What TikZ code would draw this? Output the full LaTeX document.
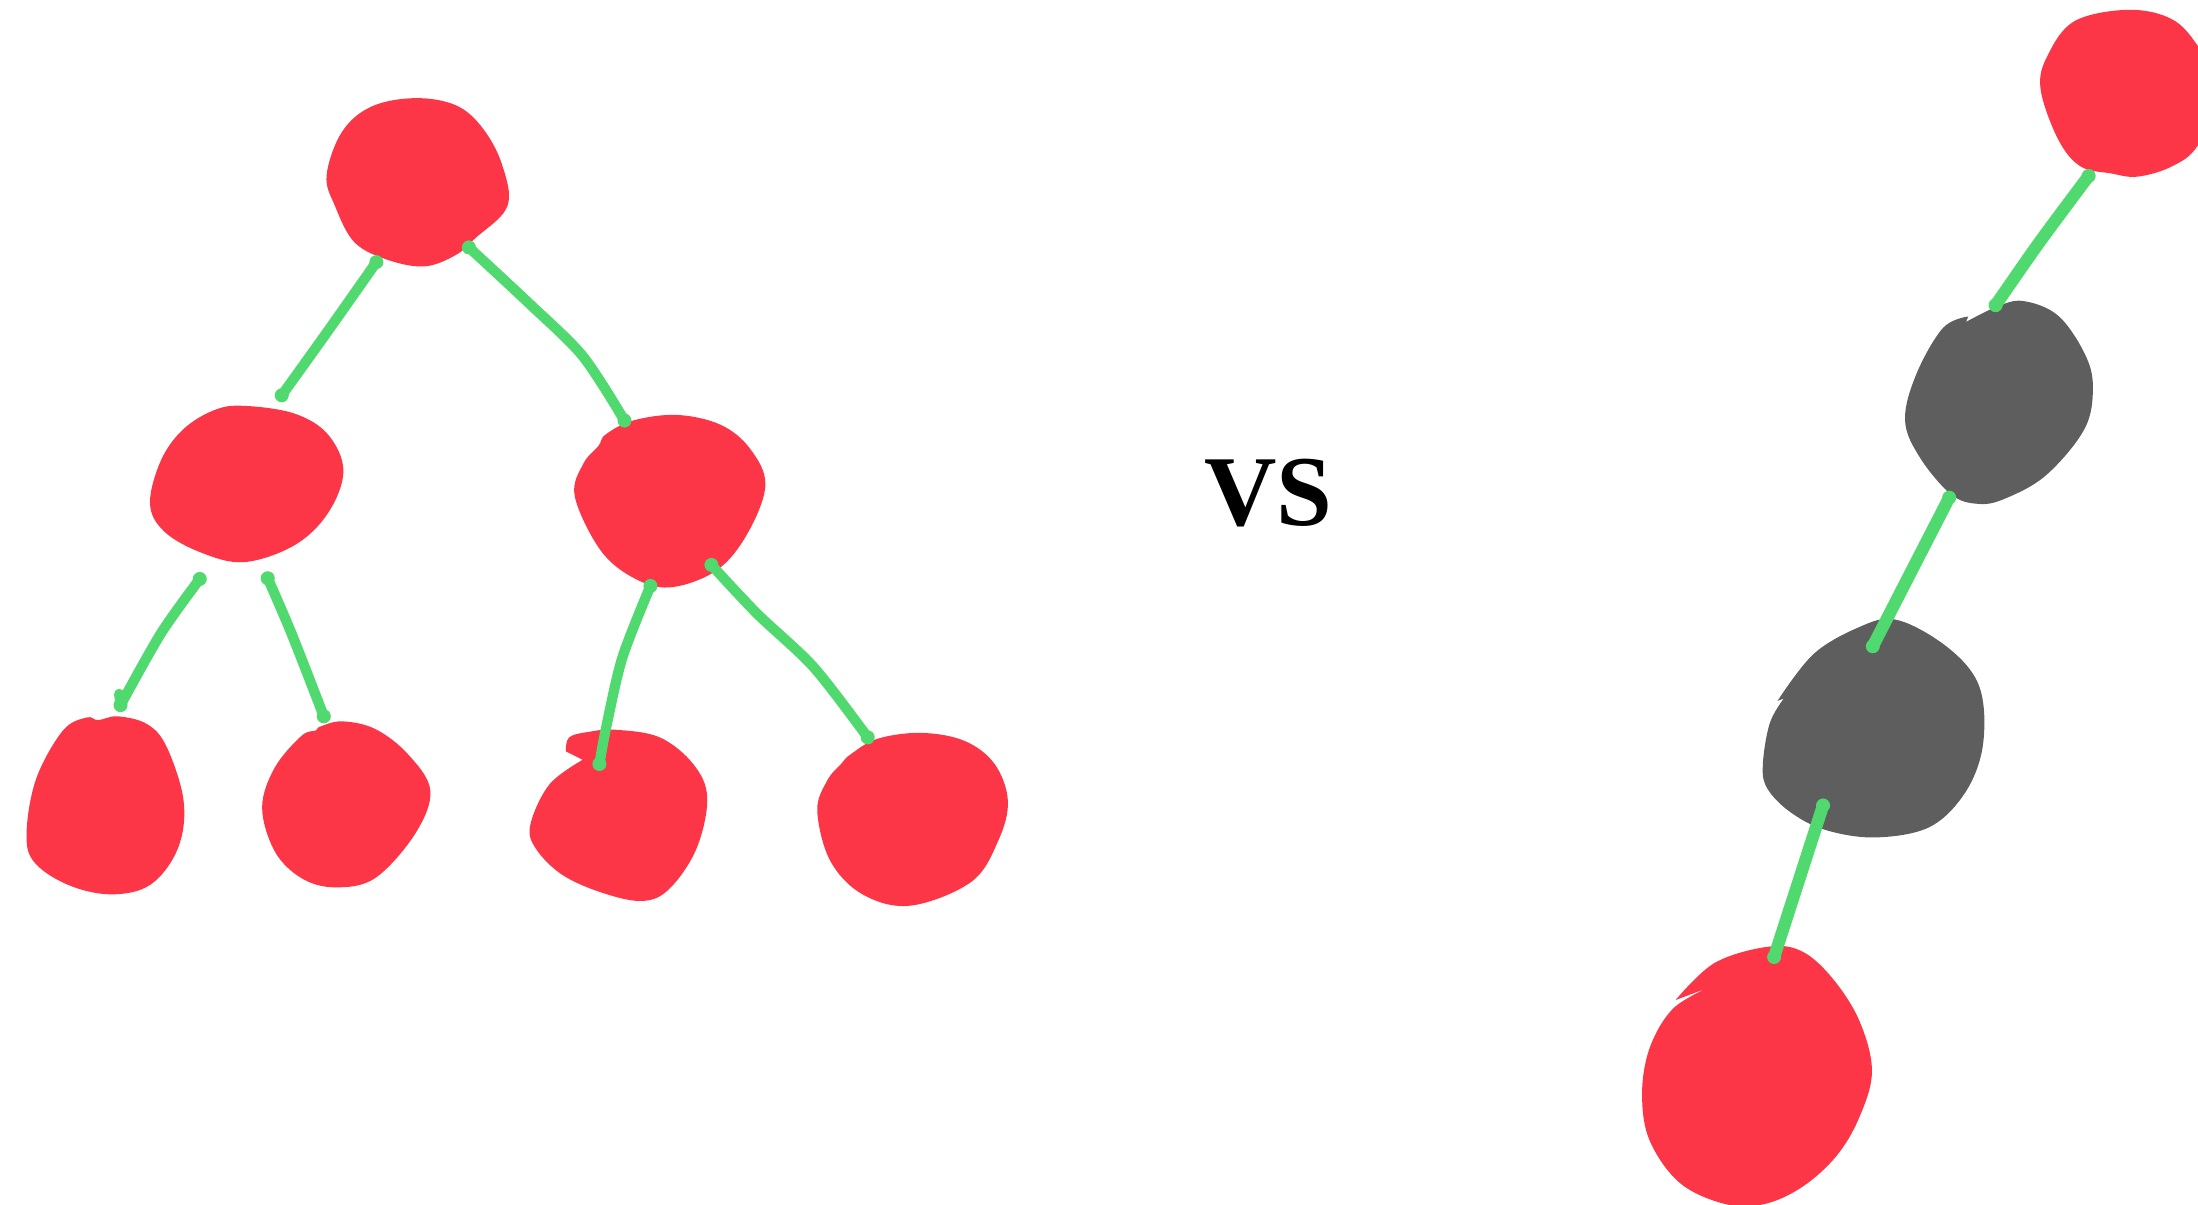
\documentclass[tikz,border=0pt]{standalone}
\usepackage{fontspec}
\setmainfont{Liberation Serif}
\definecolor{cherryred}{RGB}{252,53,71}
\definecolor{cherrygrey}{RGB}{94,94,94}
\definecolor{stemgreen}{RGB}{79,217,110}
\tikzset{
	redblob/.style={fill=cherryred},
	greyblob/.style={fill=cherrygrey},
	stem/.style={draw=stemgreen, line width=2.9pt, line cap=round, line join=round},
	thickstem/.style={stem, line width=3.5pt},
	stemend/.style={fill=stemgreen},
}
\begin{document}
\begin{tikzpicture}[x=0.014cm, y=-0.014cm]
	\useasboundingbox (0,0) rectangle (1568,859.6);
	\clip (0,0) rectangle (1568,859.6);

	% Left tree, cherries
	\fill[redblob] plot[smooth cycle, tension=0.6] coordinates {(296,70) (325,75) (344,91) (358,117) (362,147) (339,170) (325,182) (303,190) (277,185.5) (253,173) (239,147) (233,125) (244,94) (265,76)};
	\fill[redblob] plot[smooth cycle, tension=0.6] coordinates {(174,289.5) (210,295) (234,310) (245,336) (234,366) (210,389) (174,401) (143,394) (117,379) (107,359) (115,328) (131,306) (153,292.5)};
	\fill[redblob] plot[smooth cycle, tension=0.6] coordinates {(483,296) (514,303) (535,320) (546,346) (533,381) (511,407) (478,419) (451.5,412) (428,392) (410,354) (416,331) (427,318) (432,310) (451.5,300)};
	\fill[redblob] plot[smooth cycle, tension=0.6] coordinates {(62,511.8) (70,513.7) (84,511) (105,516.6) (119,533) (131,571.5) (127,605) (107.5,631) (79,638) (48,631) (24,614.5) (19,593) (26,555) (45,521)};
	\fill[redblob] plot[smooth cycle, tension=0.6] coordinates {(244,514.6) (267.6,520) (291,538) (307,564) (296,595) (267.6,626.4) (239,633) (215,626.4) (196,607.3) (187,576) (196,547.6) (215,525) (225.5,521) (228,518.5)};
	\fill[redblob] plot[smooth, tension=0.6] coordinates {(403.7,536) (406,526) (420.5,522) (439.6,520.6) (470.6,526) (494.5,545) (504.5,569) (497,605) (478,633.6) (458.7,642.7) (430,637) (401,624) (382,605) (378.4,588) (392,559.5) (415.7,542)} -- cycle;
	\fill[redblob] plot[smooth cycle, tension=0.6] coordinates {(657,522.8) (688,528.5) (709.5,545) (719,571.5) (712,600) (693,629) (650,646) (616,638.4) (592.5,614.5) (583,578.6) (590,557) (600,545) (607,538) (626,527)};

	% Right chain, cherries
	\fill[redblob] plot[smooth cycle, tension=0.6] coordinates {(1518,7) (1549,13.5) (1568,33) (1585,65) (1568,103.6) (1549.6,118.6) (1525,126) (1506,123.7) (1484,118.6) (1468,99) (1455.6,63) (1461,39) (1480,15)};
	\fill[greyblob] plot[smooth, tension=0.6] coordinates {(1402.6,229.6) (1424,219) (1443,214.7) (1468,225) (1487,252) (1493,276) (1487,306) (1459.6,339) (1429.6,356) (1410.7,359.4) (1392,352.8) (1370,327) (1359,300) (1367,267) (1386,234) (1404,225.8)} -- cycle;
	\fill[greyblob] plot[smooth, tension=0.6] coordinates {(1268,500) (1293.8,466.5) (1326.4,447.3) (1351,441.8) (1380.8,455.6) (1405.3,477.6) (1414.8,502) (1413.4,538) (1399.8,568.5) (1375.4,590.5) (1337.3,597.4) (1302,592) (1277.4,579.5) (1261,562.9) (1257.5,546.4) (1262.4,516.2) (1272.5,498.3)} -- cycle;
	\fill[redblob] plot[smooth, tension=0.6] coordinates {(1195.3,713.4) (1223,687) (1261,675.4) (1285.5,678.7) (1307.3,698) (1326.4,728.2) (1335.4,764) (1326.4,797) (1310,824.7) (1285.5,846.8) (1258.4,859) (1231,859) (1198.5,844) (1176.8,813.6) (1171.4,780.4) (1176.8,747.6) (1193,720) (1217.6,705)} -- cycle;

	% Stem ends
	\coordinate (rootl) at (268.5,187);
	\coordinate (midl) at (201,282);
	\coordinate (rootr) at (334.5,176.5);
	\coordinate (midr) at (445.5,300);
	\coordinate (leftl) at (142.5,413);
	\coordinate (leafa) at (86,503);
	\coordinate (leftr) at (191,412.5);
	\coordinate (leafb) at (231,511);
	\coordinate (rightl) at (464,418);
	\coordinate (leafc) at (427.6,545);
	\coordinate (rightr) at (507.5,403);
	\coordinate (leafd) at (619,526);
	\coordinate (topend) at (1490,125.5);
	\coordinate (greyatop) at (1423.6,217.7);
	\coordinate (greyabot) at (1390.5,355);
	\coordinate (greybtop) at (1336,461);
	\coordinate (greybbot) at (1300.5,574.6);
	\coordinate (bottomend) at (1265.6,682.7);

	% Stems of the tree
	\draw[stem] plot[smooth, tension=0.5] coordinates {(rootl) (234,236) (midl)};
	\draw[stem] plot[smooth, tension=0.5] coordinates {(rootr) (377,216) (415.7,254) (midr)};
	\draw[stem] plot[smooth, tension=0.5] coordinates {(leftl) (114.7,452) (leafa)};
	\draw[stem] (85,495) -- (leafa);
	\draw[stem] plot[smooth, tension=0.5] coordinates {(leftr) (208,452) (leafb)};
	\draw[stem] plot[smooth, tension=0.5] coordinates {(rightl) (444,469) (432.4,519) (leafc)};
	\draw[stem] plot[smooth, tension=0.5] coordinates {(rightr) (540,437.7) (580.5,476) (leafd)};

	% Stems of the chain
	\draw[thickstem] plot[smooth, tension=0.5] coordinates {(topend) (1454,174) (greyatop)};
	\draw[thickstem] (greyabot) -- (greybtop);
	\draw[thickstem] (greybbot) -- (bottomend);

	\foreach \p in {rootl, midl, rootr, midr, leftl, leafa, leftr, leafb, rightl, leafc, rightr, leafd, topend, greyatop, greyabot, greybtop, greybbot, bottomend} {
		\fill[stemend] (\p) circle (5);
	}

	\node[font=\bfseries\fontsize{28.5}{30}\selectfont, inner sep=0pt] (versus) at (905,352) {VS};
\end{tikzpicture}
\end{document}
